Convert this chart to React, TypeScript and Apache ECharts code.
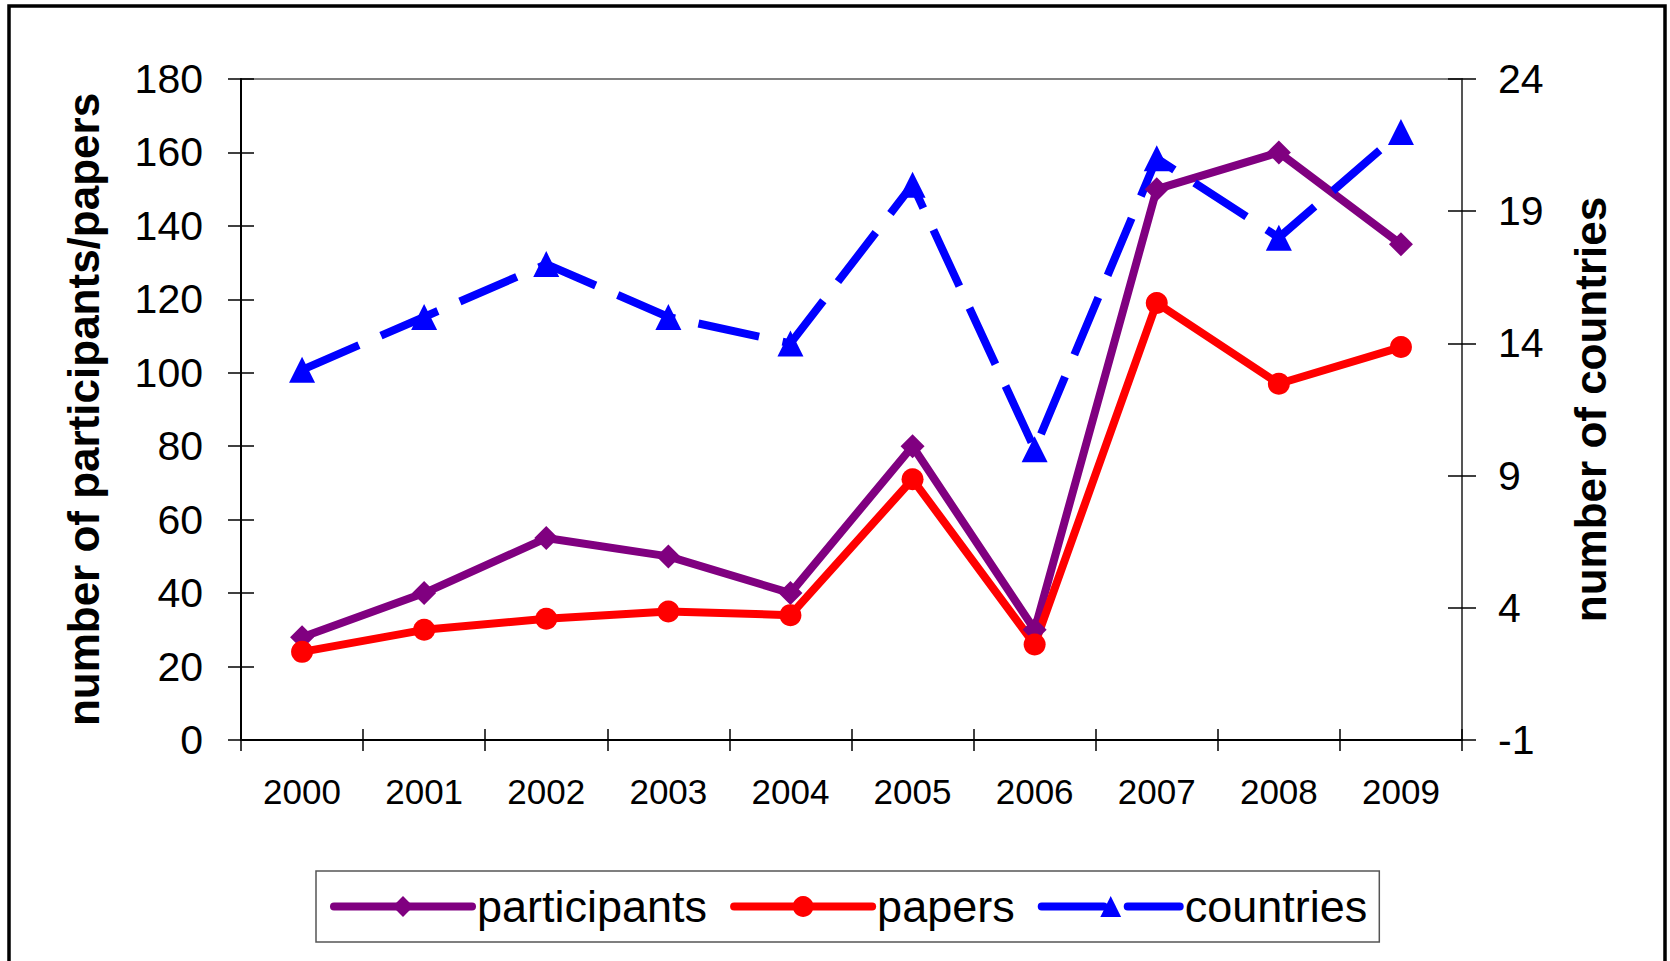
import React, { useEffect, useRef } from "react";
import * as echarts from "echarts";

const years = ["2000", "2001", "2002", "2003", "2004", "2005", "2006", "2007", "2008", "2009"];
const participants = [28, 40, 55, 50, 40, 80, 30, 150, 160, 135];
const papers = [24, 30, 33, 35, 34, 71, 26, 119, 97, 107];
const countries = [13, 15, 17, 15, 14, 20, 10, 21, 18, 22];
const leftTicks = [0, 20, 40, 60, 80, 100, 120, 140, 160, 180];
const rightTicks = [-1, 4, 9, 14, 19, 24];

const FONT = "'Liberation Sans', Arial, sans-serif";

export default function App() {
  const ref = useRef<HTMLDivElement>(null);
  useEffect(() => {
    if (!ref.current) return;
    const chart = echarts.init(ref.current, null, { renderer: "svg" });
    const baseY = {
      type: "value",
      splitLine: { show: false },
    };
    chart.setOption({
      animation: false,
      backgroundColor: "#ffffff",
      textStyle: { fontFamily: FONT },
      graphic: [
        {
          type: "rect",
          shape: { x: 9, y: 6, width: 1656, height: 1000 },
          style: { fill: "none", stroke: "#000", lineWidth: 3.5 },
          silent: true,
        },
      ],
      grid: {
        left: 241,
        right: 208,
        top: 79,
        bottom: 221,
        show: true,
        borderColor: "#808080",
        borderWidth: 2,
      },
      legend: {
        left: 316,
        top: 871,
        padding: [13, 12, 13, 14],
        borderColor: "#555",
        borderWidth: 1.5,
        borderRadius: 0,
        itemWidth: 138,
        itemHeight: 26,
        itemGap: 23,
        lineStyle: { width: 8, cap: "round" },
        textStyle: { fontSize: 45, color: "#000", fontFamily: FONT },
        data: ["participants", "papers", "countries"],
      },
      xAxis: [
        {
          type: "category",
          data: years,
          position: "bottom",
          boundaryGap: true,
          axisLine: { onZero: false, lineStyle: { color: "#000", width: 2 } },
          axisTick: { show: true, length: 11, interval: 0, lineStyle: { color: "#000", width: 1.5 } },
          axisLabel: { fontSize: 35, color: "#000", margin: 34, fontFamily: FONT, interval: 0 },
        },
        {
          type: "category",
          data: years,
          position: "bottom",
          boundaryGap: true,
          axisLine: { show: false, onZero: false },
          axisTick: { show: true, inside: true, length: 11, interval: 0, lineStyle: { color: "#000", width: 1.5 } },
          axisLabel: { show: false },
        },
      ],
      yAxis: [
        {
          ...baseY,
          position: "left",
          min: 0,
          max: 180,
          interval: 20,
          name: "number of participants/papers",
          nameLocation: "middle",
          nameRotate: 90,
          nameGap: 136,
          nameTextStyle: { fontSize: 44, fontWeight: "bold", color: "#000", fontFamily: FONT },
          axisLine: { show: true, onZero: false, lineStyle: { color: "#000", width: 2 } },
          axisTick: { show: true, length: 13, customValues: leftTicks, lineStyle: { color: "#000", width: 1.5 } },
          axisLabel: { fontSize: 41, color: "#000", margin: 38, fontFamily: FONT, customValues: leftTicks },
        },
        {
          ...baseY,
          position: "right",
          min: -1,
          max: 24,
          name: "number of countries",
          nameLocation: "middle",
          nameRotate: 90,
          nameGap: 106,
          nameTextStyle: { fontSize: 44, fontWeight: "bold", color: "#000", fontFamily: FONT },
          axisLine: { show: true, onZero: false, lineStyle: { color: "#555", width: 2 } },
          axisTick: { show: true, length: 14, customValues: rightTicks, lineStyle: { color: "#000", width: 1.5 } },
          axisLabel: { fontSize: 41, color: "#000", margin: 36, fontFamily: FONT, customValues: rightTicks },
        },
        {
          ...baseY,
          position: "left",
          min: 0,
          max: 180,
          interval: 20,
          axisLine: { show: false, onZero: false },
          axisTick: { show: true, inside: true, length: 13, customValues: leftTicks, lineStyle: { color: "#000", width: 1.5 } },
          axisLabel: { show: false },
        },
        {
          ...baseY,
          position: "right",
          min: -1,
          max: 24,
          axisLine: { show: false, onZero: false },
          axisTick: { show: true, inside: true, length: 14, customValues: rightTicks, lineStyle: { color: "#000", width: 1.5 } },
          axisLabel: { show: false },
        },
      ],
      series: [
        {
          name: "participants",
          type: "line",
          xAxisIndex: 0,
          yAxisIndex: 0,
          data: participants,
          symbol: "diamond",
          symbolSize: 24,
          itemStyle: { color: "#800080" },
          lineStyle: { color: "#800080", width: 8 },
        },
        {
          name: "papers",
          type: "line",
          xAxisIndex: 0,
          yAxisIndex: 0,
          data: papers,
          symbol: "circle",
          symbolSize: 22,
          itemStyle: { color: "#ff0000" },
          lineStyle: { color: "#ff0000", width: 8 },
        },
        {
          name: "countries",
          type: "line",
          xAxisIndex: 0,
          yAxisIndex: 1,
          data: countries,
          symbol: "triangle",
          symbolSize: 26,
          itemStyle: { color: "#0000ff" },
          lineStyle: { color: "#0000ff", width: 8, type: [62, 24] },
        },
      ],
    });
    return () => chart.dispose();
  }, []);
  return (
    <div
      ref={ref}
      style={{ position: "fixed", left: 0, top: 0, width: 1670, height: 961, background: "#fff" }}
    />
  );
}
